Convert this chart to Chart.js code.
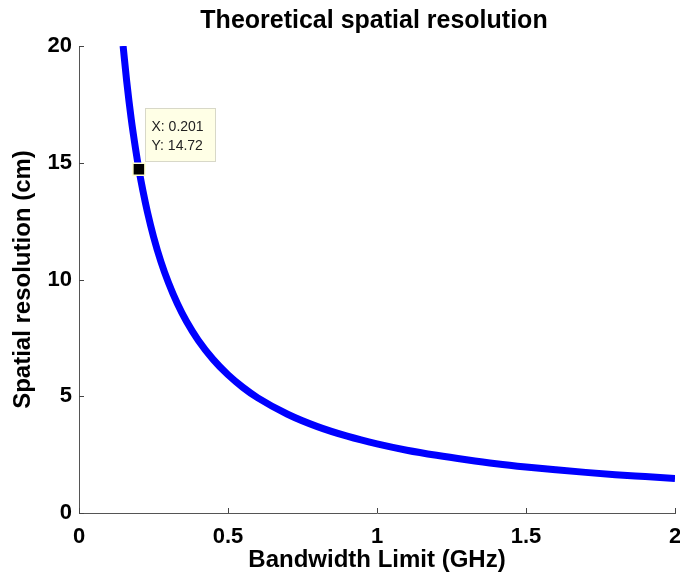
<!DOCTYPE html>
<html>
<head>
<meta charset="utf-8">
<script src="https://cdn.jsdelivr.net/npm/chart.js@4/dist/chart.umd.min.js"></script>
<style>
  html, body { margin: 0; padding: 0; background: #fff; }
  #wrap { width: 680px; height: 578px; }
</style>
</head>
<body>
<div id="wrap"><canvas id="resChart" width="680" height="578"></canvas></div>
<script>
// values
const bandwidth = [0.148, 0.16, 0.175, 0.19, 0.201, 0.215, 0.23, 0.25, 0.275, 0.3, 0.33, 0.36, 0.4, 0.45, 0.5,
    0.55, 0.6, 0.7, 0.8, 0.9, 1.0, 1.1, 1.2, 1.3, 1.4, 1.5, 1.6, 1.7, 1.8, 1.9, 2.0];
const resolution = [20.0, 18.5, 16.9, 15.58, 14.72, 13.77, 12.87, 11.84, 10.76, 9.87, 8.97, 8.22, 7.40, 6.58, 5.92,
    5.38, 4.93, 4.23, 3.70, 3.29, 2.96, 2.69, 2.47, 2.28, 2.11, 1.97, 1.85, 1.74, 1.64, 1.56, 1.48];
const xTicks = [0, 0.5, 1, 1.5, 2];
const yTicks = [0, 5, 10, 15, 20];
const tipPoint = { x: 0.201, y: 14.72 };
const tipIndex = bandwidth.indexOf(tipPoint.x);

const FONT = '"Liberation Sans", Arial, sans-serif';

const matlabPlugin = {
    id: 'matlabBits',
    afterDraw(chart) {
        const ctx = chart.ctx;
        const area = chart.chartArea;
        const xs = chart.scales.x, ys = chart.scales.y;
        ctx.save();
        // inward tick marks
        ctx.strokeStyle = '#444';
        ctx.lineWidth = 1;
        ctx.beginPath();
        xTicks.forEach(v => {
            const px = Math.round(xs.getPixelForValue(v)) + 0.5;
            ctx.moveTo(px, area.bottom);
            ctx.lineTo(px, area.bottom - 5);
        });
        yTicks.forEach(v => {
            const py = Math.round(ys.getPixelForValue(v)) + 0.5;
            ctx.moveTo(area.left, py);
            ctx.lineTo(area.left + 5, py);
        });
        ctx.stroke();

        // title
        ctx.fillStyle = '#000';
        ctx.font = 'bold 25px ' + FONT;
        ctx.textAlign = 'center';
        ctx.textBaseline = 'alphabetic';
        ctx.fillText('Theoretical spatial resolution', (area.left + area.right) / 2 - 3, 28);

        // data tip
        const mx = xs.getPixelForValue(tipPoint.x);
        const my = ys.getPixelForValue(tipPoint.y);
        const bx = Math.round(mx + 6) + 0.5, by = Math.round(my - 61) + 0.5;
        ctx.fillStyle = '#ffffe6';
        ctx.strokeStyle = '#d8d8c8';
        ctx.fillRect(bx, by, 70, 53);
        ctx.strokeRect(bx, by, 70, 53);
        ctx.fillStyle = '#222';
        ctx.font = '14px ' + FONT;
        ctx.textAlign = 'left';
        ctx.fillText('X: ' + tipPoint.x.toFixed(3), bx + 6, by + 22);
        ctx.fillText('Y: ' + tipPoint.y.toFixed(2), bx + 6, by + 41);
        ctx.restore();
    }
};

new Chart(document.getElementById('resChart'), {
    type: 'scatter',
    data: {
        datasets: [{
            data: bandwidth.map((b, i) => ({ x: b, y: resolution[i] })),
            showLine: true,
            borderColor: '#0000ff',
            borderWidth: 7,
            cubicInterpolationMode: 'monotone',
            // only the data-tip point gets a marker
            pointStyle: 'rect',
            pointRadius: c => c.dataIndex === tipIndex ? 8.5 : 0,
            pointBackgroundColor: '#000',
            pointBorderColor: '#ffffd0',
            pointBorderWidth: 1.5
        }]
    },
    options: {
        responsive: false,
        animation: false,
        layout: { padding: { top: 46, right: 5, left: 0, bottom: 0 } },
        plugins: {
            legend: { display: false },
            tooltip: { enabled: false }
        },
        scales: {
            x: {
                type: 'linear',
                min: 0,
                max: 2,
                afterFit: s => { s.height = 65; s.paddingLeft = 0; s.paddingRight = 0; },
                afterBuildTicks: s => { s.ticks = xTicks.map(v => ({ value: v })); },
                grid: { display: false, drawTicks: false },
                border: { display: true, color: '#555', width: 1 },
                ticks: {
                    color: '#000',
                    padding: 11,
                    maxRotation: 0,
                    callback: v => String(v),
                    font: { family: FONT, size: 22, weight: 'bold' }
                },
                title: {
                    display: true,
                    text: 'Bandwidth Limit (GHz)',
                    color: '#000',
                    padding: { top: 0, bottom: 3 },
                    font: { family: FONT, size: 24, weight: 'bold' }
                }
            },
            y: {
                type: 'linear',
                min: 0,
                max: 20,
                afterFit: s => { s.width = 79; },
                afterBuildTicks: s => { s.ticks = yTicks.map(v => ({ value: v })); },
                grid: { display: false, drawTicks: false },
                border: { display: true, color: '#555', width: 1 },
                ticks: {
                    color: '#000',
                    padding: 7,
                    callback: v => String(v),
                    font: { family: FONT, size: 22, weight: 'bold' }
                },
                title: {
                    display: true,
                    text: 'Spatial resolution (cm)',
                    color: '#000',
                    padding: { top: 9, bottom: 0 },
                    font: { family: FONT, size: 24, weight: 'bold' }
                }
            }
        }
    },
    plugins: [matlabPlugin]
});
</script>
</body>
</html>
